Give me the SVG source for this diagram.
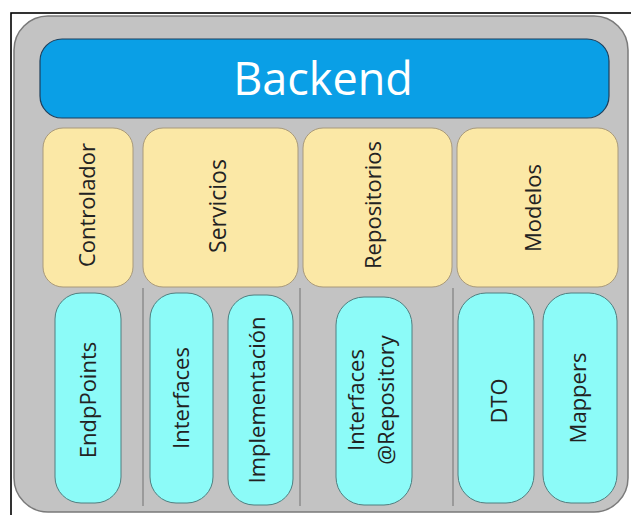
<svg xmlns="http://www.w3.org/2000/svg" width="631" height="515" viewBox="0 0 631 515">
  <style>
    .frame { fill: none; stroke: #000; stroke-width: 1.6; }
    .shell { fill: #c3c3c3; stroke: #7a7a7a; stroke-width: 1.5; }
    .title { fill: #0a9fe6; stroke: #1d3f5c; stroke-width: 1.2; }
    .layer { fill: #fbe8a6; stroke: #a8997a; stroke-width: 1; }
    .part { fill: #8cfbf8; stroke: #4f7f80; stroke-width: 1; }
    .divider { stroke: #8c8c8c; stroke-width: 1.5; fill: none; }
    text { font-family: "Open Sans", "Noto Sans", "DejaVu Sans", sans-serif; text-anchor: middle; }
    .big { fill: #ffffff; font-size: 45px; }
    .lbl { fill: #222222; font-size: 22px; }
  </style>

  <!-- page frame -->
  <rect class="frame" x="11" y="13" width="640" height="520"/>

  <!-- gray container -->
  <rect class="shell" x="14" y="16" width="614" height="496" rx="34" ry="34"/>

  <g id="backend">
    <rect class="title" x="40" y="39" width="569" height="79" rx="22" ry="22"/>
    <text class="big" x="323" y="95">Backend</text>
  </g>

  <!-- column dividers -->
  <g id="connectors">
    <line class="divider" x1="143" y1="288" x2="143" y2="506"/>
    <line class="divider" x1="300" y1="288" x2="300" y2="506"/>
    <line class="divider" x1="453" y1="288" x2="453" y2="506"/>
  </g>

  <g id="controlador">
    <rect class="layer" x="43" y="128" width="90" height="159" rx="20" ry="20"/>
    <text class="lbl" transform="translate(95,205) rotate(-90)">Controlador</text>
  </g>
  <g id="servicios">
    <rect class="layer" x="143" y="128" width="155" height="159" rx="20" ry="20"/>
    <text class="lbl" transform="translate(226,206) rotate(-90)" style="font-size:23px">Servicios</text>
  </g>
  <g id="repositorios">
    <rect class="layer" x="303" y="128" width="149" height="159" rx="20" ry="20"/>
    <text class="lbl" transform="translate(381,205) rotate(-90)">Repositorios</text>
  </g>
  <g id="modelos">
    <rect class="layer" x="457" y="128" width="161" height="159" rx="20" ry="20"/>
    <text class="lbl" transform="translate(541,208) rotate(-90)">Modelos</text>
  </g>

  <g id="endpoints">
    <rect class="part" x="55" y="293" width="66" height="210" rx="26" ry="26"/>
    <text class="lbl" transform="translate(96,400) rotate(-90)">EndpPoints</text>
  </g>
  <g id="interfaces">
    <rect class="part" x="150" y="293" width="63" height="210" rx="26" ry="26"/>
    <text class="lbl" transform="translate(189,398) rotate(-90)">Interfaces</text>
  </g>
  <g id="implementacion">
    <rect class="part" x="228" y="295" width="65" height="210" rx="26" ry="26"/>
    <text class="lbl" transform="translate(265,400) rotate(-90)">Implementación</text>
  </g>
  <g id="interfaces-repository">
    <rect class="part" x="336" y="297" width="76" height="208" rx="28" ry="28"/>
    <text class="lbl" transform="translate(364,400) rotate(-90)">Interfaces</text>
    <text class="lbl" transform="translate(394,400) rotate(-90)">@Repository</text>
  </g>
  <g id="dto">
    <rect class="part" x="458" y="293" width="76" height="210" rx="28" ry="28"/>
    <text class="lbl" transform="translate(507,401) rotate(-90)">DTO</text>
  </g>
  <g id="mappers">
    <rect class="part" x="543" y="293" width="74" height="210" rx="28" ry="28"/>
    <text class="lbl" transform="translate(586,398) rotate(-90)">Mappers</text>
  </g>
</svg>
